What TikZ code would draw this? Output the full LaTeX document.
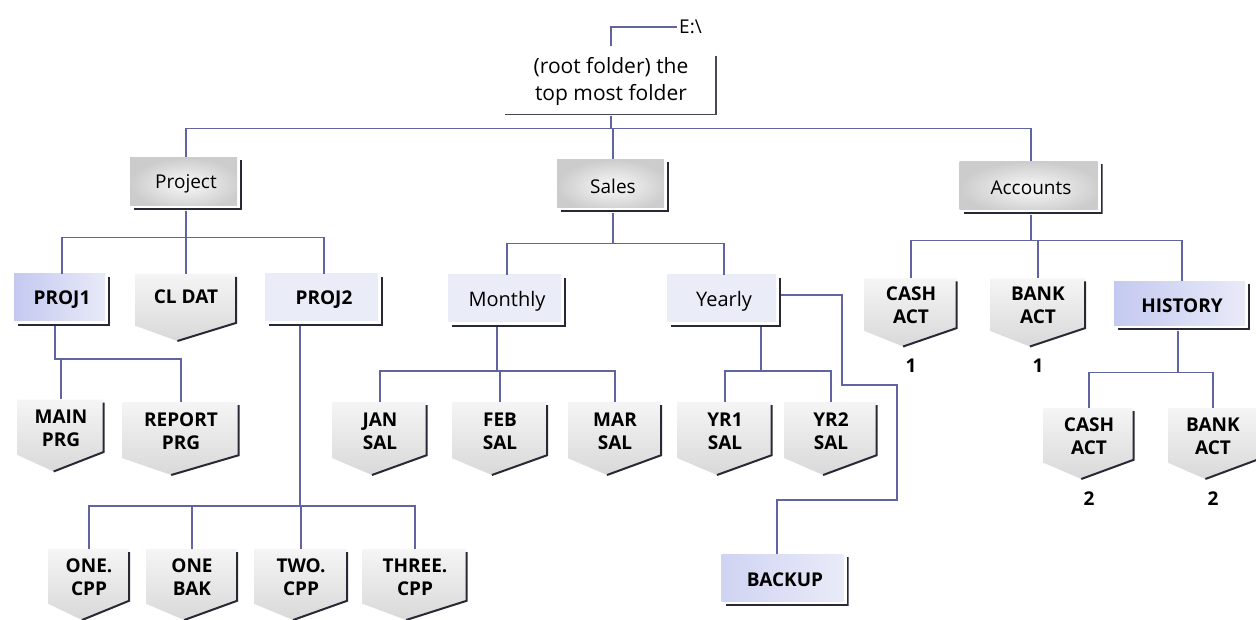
\documentclass[tikz,border=0pt]{standalone}
\usepackage{fontspec}
\setmainfont{Open Sans}
\usetikzlibrary{positioning,calc}
\definecolor{linkblue}{RGB}{96,100,160}
\definecolor{edgedark}{RGB}{40,40,55}
\definecolor{dirdeep}{RGB}{196,201,240}
\definecolor{dirpale}{RGB}{234,236,248}

\begin{document}
\begin{tikzpicture}[x=1pt, y=-1pt,
  link/.style={draw=linkblue, line width=1.5pt},
  edge/.style={draw=edgedark, line width=2pt},
  rootbox/.style={inner sep=0pt, align=center, font=\fontsize{21}{27}\selectfont,
    path picture={
      \draw[draw=edgedark!85, line width=1.6pt] ([xshift=-1pt,yshift=-10pt]path picture bounding box.north east) |- ([yshift=1pt]path picture bounding box.south west);
    }},
  folder/.style={minimum height=53pt, inner sep=0pt, font=\fontsize{19}{22}\selectfont,
    path picture={
      \shade[inner color=gray!5, outer color=gray!40] (path picture bounding box.north west) rectangle ([xshift=-5pt,yshift=5pt]path picture bounding box.south east);
      \draw[edge] ([xshift=-1pt,yshift=-3pt]path picture bounding box.north east) |- ([xshift=4pt,yshift=1pt]path picture bounding box.south west);
    }},
  dir/.style={minimum height=52pt, inner sep=0pt, font=\bfseries\fontsize{19}{22}\selectfont,
    path picture={
      \shade[left color=#1, right color=dirpale] (path picture bounding box.north west) rectangle ([xshift=-5pt,yshift=5pt]path picture bounding box.south east);
      \draw[edge] ([xshift=-1pt,yshift=-3pt]path picture bounding box.north east) |- ([xshift=4pt,yshift=1pt]path picture bounding box.south west);
    }},
  dir/.default=dirpale,
  file/.style={minimum width=94pt, minimum height=72pt, inner sep=0pt, align=center, text depth=15pt,
    font=\bfseries\fontsize{19}{23}\selectfont,
    path picture={
      \coordinate (fnw) at (path picture bounding box.north west);
      \coordinate (fne) at ([xshift=-1pt]path picture bounding box.north east);
      \coordinate (fse) at ([xshift=-1pt]path picture bounding box.south east);
      \coordinate (fsw) at (path picture bounding box.south west);
      \coordinate (fe) at ($(fse)!0.28!(fne)$);
      \coordinate (fw) at ($(fsw)!0.24!(fnw)$);
      \coordinate (ft) at ($([yshift=1pt]fsw)!0.42!([yshift=1pt]fse)$);
      \shade[top color=gray!8, bottom color=gray!30] (fnw) -- (fne) -- (fe) -- (ft) -- (fw) -- cycle;
      \draw[edge] ([yshift=-3pt]fne) -- (fe) .. controls ($(fe)!0.5!(ft)$) and ($(ft)!0.25!(fe)$) .. (ft);
    }},
  num/.style={inner sep=1pt, font=\bfseries\fontsize{19}{22}\selectfont}
]
\path[fill=white, use as bounding box] (0,0) rectangle (1256,620);

\node[rootbox, minimum width=212pt, minimum height=69pt] (root) at (611,81) {(root folder) the\\top most folder};
\node[anchor=west, inner sep=2pt, font=\fontsize{19}{22}\selectfont] (drive) at (677,27) {E:\textbackslash};

\node[folder, minimum width=112pt] (project) at (186,184) {Project};
\node[folder, minimum width=112pt] (sales) at (613,186) {Sales};
\node[folder, minimum width=143pt] (accounts) at (1031,188) {Accounts};

\node[dir=dirdeep, minimum width=96pt] (proj1) at (62,300) {PROJ1};
\node[file, minimum width=102pt, minimum height=68pt, text depth=22pt] (cldat) at (186,308) {CL DAT};
\node[dir, minimum width=118pt] (proj2) at (324,300) {PROJ2};
\node[dir, minimum width=118pt, font=\fontsize{20}{22}\selectfont] (monthly) at (507,301) {Monthly};
\node[dir, minimum width=114pt, font=\fontsize{20}{22}\selectfont] (yearly) at (724,301) {Yearly};
\node[file, minimum width=93pt, minimum height=69pt] (cash1) at (911,313) {CASH\\ACT};
\node[file, minimum width=96pt, minimum height=69pt] (bank1) at (1038,313) {BANK\\ACT};
\node[dir=dirdeep, minimum width=136pt, minimum height=49pt] (history) at (1182,306) {HISTORY};

\node[file, minimum width=87pt, minimum height=73pt] (mainprg) at (61,436) {MAIN\\PRG};
\node[file, minimum width=117pt, minimum height=74pt] (reportprg) at (181,439) {REPORT\\PRG};
\node[file, minimum width=95pt, minimum height=74pt] (jansal) at (380,439) {JAN\\SAL};
\node[file, minimum width=96pt, minimum height=74pt] (febsal) at (500,439) {FEB\\SAL};
\node[file, minimum height=74pt] (marsal) at (615,439) {MAR\\SAL};
\node[file, minimum width=95pt, minimum height=74pt] (yr1sal) at (725,439) {YR1\\SAL};
\node[file, minimum width=93pt, minimum height=74pt] (yr2sal) at (831,439) {YR2\\SAL};
\node[file, minimum width=91pt] (cash2) at (1089,444) {CASH\\ACT};
\node[file, minimum width=90pt] (bank2) at (1213,444) {BANK\\ACT};

\node[file, minimum width=82pt] (onecpp) at (89,585) {ONE.\\CPP};
\node[file, minimum width=92pt] (onebak) at (192,585) {ONE\\BAK};
\node[file] (twocpp) at (301,585) {TWO.\\CPP};
\node[file, minimum width=105pt] (threecpp) at (415,585) {THREE.\\CPP};
\node[dir=dirdeep!70!dirpale, minimum width=127pt] (backup) at (785,580) {BACKUP};

\node[num, below=10pt of cash1] (cash1num) {1};
\node[num, below=10pt of bank1] (bank1num) {1};
\node[num, below=10pt of cash2] (cash2num) {2};
\node[num, below=10pt of bank2] (bank2num) {2};

\draw[link] (root.north) |- (drive.west);
\draw[link] (root.south) -- ++(0,13) -| (project.north);
\draw[link] (root.south) -- ++(0,13) -| (sales.north);
\draw[link] (root.south) -- ++(0,13) -| (accounts.north);

\draw[link] (project.south) -- ++(0,27) -| (proj1.north);
\draw[link] (project.south) -- ++(0,27) -| (cldat.north);
\draw[link] (project.south) -- ++(0,27) -| (proj2.north);
\draw[link] ([xshift=-7pt]proj1.south) -- ++(0,33) -| (mainprg.north);
\draw[link] ([xshift=-7pt]proj1.south) -- ++(0,33) -| (reportprg.north);
\draw[link] ([xshift=-24pt]proj2.south) -- ++(0,180) -| (onecpp.north);
\draw[link] ([xshift=-24pt]proj2.south) -- ++(0,180) -| (onebak.north);
\draw[link] ([xshift=-24pt]proj2.south) -- ++(0,180) -| (twocpp.north);
\draw[link] ([xshift=-24pt]proj2.south) -- ++(0,180) -| (threecpp.north);

\draw[link] (sales.south) -- ++(0,31) -| (monthly.north);
\draw[link] (sales.south) -- ++(0,31) -| (yearly.north);
\draw[link] ([xshift=-10pt]monthly.south) -- ++(0,44) -| (jansal.north);
\draw[link] ([xshift=-10pt]monthly.south) -- ++(0,44) -| (febsal.north);
\draw[link] ([xshift=-10pt]monthly.south) -- ++(0,44) -| (marsal.north);
\draw[link] ([xshift=37pt]yearly.south) -- ++(0,44) -| (yr1sal.north);
\draw[link] ([xshift=37pt]yearly.south) -- ++(0,44) -| (yr2sal.north);
\draw[link] ([yshift=6pt]yearly.east) -| ++(61,90) -| ++(55,115) -| ([xshift=-8pt]backup.north);

\draw[link] (accounts.south) -- ++(0,26) -| (cash1.north);
\draw[link] (accounts.south) -- ++(0,26) -| (bank1.north);
\draw[link] (accounts.south) -- ++(0,26) -| (history.north);
\draw[link] ([xshift=-4pt]history.south) -- ++(0,42) -| (cash2.north);
\draw[link] ([xshift=-4pt]history.south) -- ++(0,42) -| (bank2.north);
\end{tikzpicture}
\end{document}
